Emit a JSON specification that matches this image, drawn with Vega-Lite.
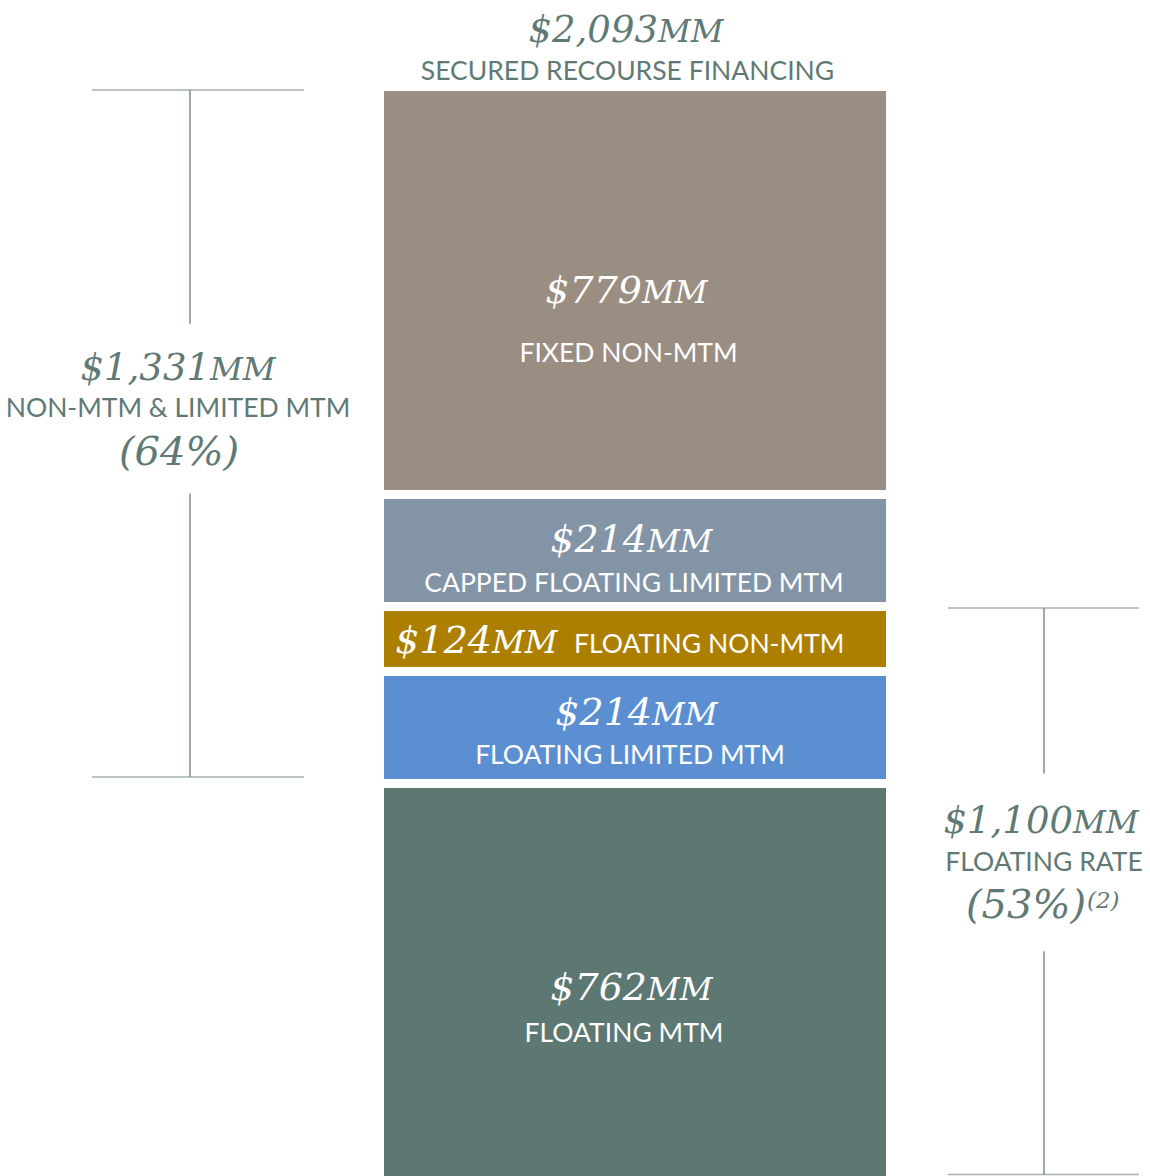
{
  "$schema": "https://vega.github.io/schema/vega-lite/v6.json",
  "width": 1150,
  "height": 1176,
  "autosize": {"type": "fit", "contains": "padding"},
  "padding": 0,
  "background": "white",
  "config": {"view": {"stroke": null}},
  "datasets": {
    "segments": [
      {"segment": "FLOATING MTM", "value": 762, "order": 1},
      {"segment": "FLOATING LIMITED MTM", "value": 214, "order": 2},
      {"segment": "FLOATING NON-MTM", "value": 124, "order": 3},
      {"segment": "CAPPED FLOATING LIMITED MTM", "value": 214, "order": 4},
      {"segment": "FIXED NON-MTM", "value": 779, "order": 5}
    ],
    "brackets": [
      {"side": "left", "label": "NON-MTM & LIMITED MTM", "total": 1331, "share": "(64%)", "from": 762, "to": 2093},
      {"side": "right", "label": "FLOATING RATE", "total": 1100, "share": "(53%)", "note": "(2)", "from": 0, "to": 1100}
    ]
  },
  "layer": [
    {
      "data": {"name": "segments"},
      "transform": [
        {"stack": "value", "groupby": [], "sort": [{"field": "order", "order": "ascending"}], "as": ["v0", "v1"]}
      ],
      "layer": [
        {
          "mark": {"type": "bar", "width": 511, "stroke": "white", "strokeWidth": 9, "xOffset": 18, "clip": true},
          "encoding": {
            "x": {"datum": "bar", "type": "nominal", "axis": null, "scale": {"type": "point", "domain": ["left", "bar", "right"], "range": [190, 1044], "padding": 0}},
            "y": {"field": "v1", "type": "quantitative", "axis": null, "scale": {"domain": [12.6, 2258.2], "nice": false, "zero": false}},
            "y2": {"field": "v0"},
            "color": {"field": "segment", "type": "nominal", "legend": null,
              "scale": {"domain": ["FLOATING MTM", "FLOATING LIMITED MTM", "FLOATING NON-MTM", "CAPPED FLOATING LIMITED MTM", "FIXED NON-MTM"],
                        "range": ["#5d7773", "#5c8fd1", "#ad7f00", "#8294a5", "#9a8d81"]}}
          }
        },
        {
          "transform": [{"filter": {"field": "segment", "equal": "FIXED NON-MTM"}}],
          "layer": [
            {"mark": {"type": "text", "font": "DejaVu Serif", "fontStyle": "italic", "fontSize": 38, "fill": "white", "align": "right", "baseline": "alphabetic", "dx": 25, "dy": 216.5},
             "encoding": {"x": {"datum": "bar", "type": "nominal"}, "y": {"field": "v1", "type": "quantitative"}, "text": {"field": "value", "format": "$,d"}}},
            {"mark": {"type": "text", "font": "DejaVu Serif", "fontStyle": "italic", "fontSize": 32, "fill": "white", "align": "left", "baseline": "alphabetic", "dx": 25, "dy": 216.5},
             "encoding": {"x": {"datum": "bar", "type": "nominal"}, "y": {"field": "v1", "type": "quantitative"}, "text": {"value": "MM"}}},
            {"mark": {"type": "text", "font": "Lato", "fontSize": 26.5, "fill": "white", "align": "center", "baseline": "alphabetic", "dx": 11.5, "dy": 275.5},
             "encoding": {"x": {"datum": "bar", "type": "nominal"}, "y": {"field": "v1", "type": "quantitative"}, "text": {"field": "segment"}}}
          ]
        },
        {
          "transform": [{"filter": {"field": "segment", "equal": "CAPPED FLOATING LIMITED MTM"}}],
          "layer": [
            {"mark": {"type": "text", "font": "DejaVu Serif", "fontStyle": "italic", "fontSize": 38, "fill": "white", "align": "right", "baseline": "alphabetic", "dx": 30, "dy": 57.5},
             "encoding": {"x": {"datum": "bar", "type": "nominal"}, "y": {"field": "v1", "type": "quantitative"}, "text": {"field": "value", "format": "$,d"}}},
            {"mark": {"type": "text", "font": "DejaVu Serif", "fontStyle": "italic", "fontSize": 32, "fill": "white", "align": "left", "baseline": "alphabetic", "dx": 30, "dy": 57.5},
             "encoding": {"x": {"datum": "bar", "type": "nominal"}, "y": {"field": "v1", "type": "quantitative"}, "text": {"value": "MM"}}},
            {"mark": {"type": "text", "font": "Lato", "fontSize": 26.5, "fill": "white", "align": "center", "baseline": "alphabetic", "dx": 17, "dy": 97.5},
             "encoding": {"x": {"datum": "bar", "type": "nominal"}, "y": {"field": "v1", "type": "quantitative"}, "text": {"field": "segment"}}}
          ]
        },
        {
          "transform": [{"filter": {"field": "segment", "equal": "FLOATING NON-MTM"}}],
          "layer": [
            {"mark": {"type": "text", "font": "DejaVu Serif", "fontStyle": "italic", "fontSize": 38, "fill": "white", "align": "right", "baseline": "alphabetic", "dx": -125, "dy": 46.5},
             "encoding": {"x": {"datum": "bar", "type": "nominal"}, "y": {"field": "v1", "type": "quantitative"}, "text": {"field": "value", "format": "$,d"}}},
            {"mark": {"type": "text", "font": "DejaVu Serif", "fontStyle": "italic", "fontSize": 32, "fill": "white", "align": "left", "baseline": "alphabetic", "dx": -125, "dy": 46.5},
             "encoding": {"x": {"datum": "bar", "type": "nominal"}, "y": {"field": "v1", "type": "quantitative"}, "text": {"value": "MM"}}},
            {"mark": {"type": "text", "font": "Lato", "fontSize": 26.5, "fill": "white", "align": "left", "baseline": "alphabetic", "dx": -43, "dy": 46.5},
             "encoding": {"x": {"datum": "bar", "type": "nominal"}, "y": {"field": "v1", "type": "quantitative"}, "text": {"field": "segment"}}}
          ]
        },
        {
          "transform": [{"filter": {"field": "segment", "equal": "FLOATING LIMITED MTM"}}],
          "layer": [
            {"mark": {"type": "text", "font": "DejaVu Serif", "fontStyle": "italic", "fontSize": 38, "fill": "white", "align": "right", "baseline": "alphabetic", "dx": 35, "dy": 53.6},
             "encoding": {"x": {"datum": "bar", "type": "nominal"}, "y": {"field": "v1", "type": "quantitative"}, "text": {"field": "value", "format": "$,d"}}},
            {"mark": {"type": "text", "font": "DejaVu Serif", "fontStyle": "italic", "fontSize": 32, "fill": "white", "align": "left", "baseline": "alphabetic", "dx": 35, "dy": 53.6},
             "encoding": {"x": {"datum": "bar", "type": "nominal"}, "y": {"field": "v1", "type": "quantitative"}, "text": {"value": "MM"}}},
            {"mark": {"type": "text", "font": "Lato", "fontSize": 26.5, "fill": "white", "align": "center", "baseline": "alphabetic", "dx": 13, "dy": 92.6},
             "encoding": {"x": {"datum": "bar", "type": "nominal"}, "y": {"field": "v1", "type": "quantitative"}, "text": {"field": "segment"}}}
          ]
        },
        {
          "transform": [{"filter": {"field": "segment", "equal": "FLOATING MTM"}}],
          "layer": [
            {"mark": {"type": "text", "font": "DejaVu Serif", "fontStyle": "italic", "fontSize": 38, "fill": "white", "align": "right", "baseline": "alphabetic", "dx": 30, "dy": 216.5},
             "encoding": {"x": {"datum": "bar", "type": "nominal"}, "y": {"field": "v1", "type": "quantitative"}, "text": {"field": "value", "format": "$,d"}}},
            {"mark": {"type": "text", "font": "DejaVu Serif", "fontStyle": "italic", "fontSize": 32, "fill": "white", "align": "left", "baseline": "alphabetic", "dx": 30, "dy": 216.5},
             "encoding": {"x": {"datum": "bar", "type": "nominal"}, "y": {"field": "v1", "type": "quantitative"}, "text": {"value": "MM"}}},
            {"mark": {"type": "text", "font": "Lato", "fontSize": 26.5, "fill": "white", "align": "center", "baseline": "alphabetic", "dx": 7, "dy": 258.5},
             "encoding": {"x": {"datum": "bar", "type": "nominal"}, "y": {"field": "v1", "type": "quantitative"}, "text": {"field": "segment"}}}
          ]
        },
        {
          "transform": [{"aggregate": [{"op": "sum", "field": "value", "as": "total"}]}],
          "layer": [
            {"mark": {"type": "text", "font": "DejaVu Serif", "fontStyle": "italic", "fontSize": 37, "fill": "#5f7a75", "align": "right", "baseline": "alphabetic", "dx": 41, "dy": -44.5},
             "encoding": {"x": {"datum": "bar", "type": "nominal"}, "y": {"field": "total", "type": "quantitative"}, "text": {"field": "total", "format": "$,d"}}},
            {"mark": {"type": "text", "font": "DejaVu Serif", "fontStyle": "italic", "fontSize": 32, "fill": "#5f7a75", "align": "left", "baseline": "alphabetic", "dx": 41, "dy": -44.5},
             "encoding": {"x": {"datum": "bar", "type": "nominal"}, "y": {"field": "total", "type": "quantitative"}, "text": {"value": "MM"}}},
            {"mark": {"type": "text", "font": "Lato", "fontSize": 26.5, "fill": "#5f7a75", "align": "center", "baseline": "alphabetic", "dx": 10.5, "dy": -6.5},
             "encoding": {"x": {"datum": "bar", "type": "nominal"}, "y": {"field": "total", "type": "quantitative"}, "text": {"value": "SECURED RECOURSE FINANCING"}}}
          ]
        }
      ]
    },
    {
      "data": {"name": "brackets"},
      "layer": [
        {
          "transform": [{"filter": {"field": "side", "equal": "left"}}],
          "layer": [
            {"mark": {"type": "rule", "color": "#7d8e8a", "strokeWidth": 1.5, "yOffset": 3.5, "y2Offset": -6.5},
             "encoding": {"x": {"field": "side", "type": "nominal"}, "y": {"field": "to", "type": "quantitative", "scale": {"domain": [12.6, 2258.2], "nice": false, "zero": false}}, "y2": {"field": "from"}}},
            {"mark": {"type": "tick", "color": "#7d8e8a", "size": 212, "thickness": 1.5, "xOffset": 8, "yOffset": 3.5},
             "encoding": {"x": {"field": "side", "type": "nominal"}, "y": {"field": "to", "type": "quantitative"}}},
            {"mark": {"type": "tick", "color": "#7d8e8a", "size": 212, "thickness": 1.5, "xOffset": 8, "yOffset": -6.5},
             "encoding": {"x": {"field": "side", "type": "nominal"}, "y": {"field": "from", "type": "quantitative"}}},
            {"mark": {"type": "text", "font": "DejaVu Serif", "fontStyle": "italic", "fontSize": 37, "fill": "white", "stroke": "white", "strokeWidth": 60, "strokeJoin": "round", "align": "right", "baseline": "alphabetic", "dx": 20, "dy": 293.5},
             "encoding": {"x": {"field": "side", "type": "nominal"}, "y": {"field": "to", "type": "quantitative"}, "text": {"field": "total", "format": "$,d"}}},
            {"mark": {"type": "text", "font": "Lato", "fontSize": 26.5, "fill": "white", "stroke": "white", "strokeWidth": 44, "strokeJoin": "round", "align": "center", "baseline": "alphabetic", "dx": -12, "dy": 330.5},
             "encoding": {"x": {"field": "side", "type": "nominal"}, "y": {"field": "to", "type": "quantitative"}, "text": {"field": "label"}}},
            {"mark": {"type": "text", "font": "DejaVu Serif", "fontStyle": "italic", "fontSize": 40, "fill": "white", "stroke": "white", "strokeWidth": 56, "strokeJoin": "round", "align": "center", "baseline": "alphabetic", "dx": -11, "dy": 378.5},
             "encoding": {"x": {"field": "side", "type": "nominal"}, "y": {"field": "to", "type": "quantitative"}, "text": {"field": "share"}}},
            {"mark": {"type": "text", "font": "DejaVu Serif", "fontStyle": "italic", "fontSize": 37, "fill": "#5f7a75", "align": "right", "baseline": "alphabetic", "dx": 20, "dy": 293.5},
             "encoding": {"x": {"field": "side", "type": "nominal"}, "y": {"field": "to", "type": "quantitative"}, "text": {"field": "total", "format": "$,d"}}},
            {"mark": {"type": "text", "font": "DejaVu Serif", "fontStyle": "italic", "fontSize": 32, "fill": "#5f7a75", "align": "left", "baseline": "alphabetic", "dx": 20, "dy": 293.5},
             "encoding": {"x": {"field": "side", "type": "nominal"}, "y": {"field": "to", "type": "quantitative"}, "text": {"value": "MM"}}},
            {"mark": {"type": "text", "font": "Lato", "fontSize": 26.5, "fill": "#5f7a75", "align": "center", "baseline": "alphabetic", "dx": -12, "dy": 330.5},
             "encoding": {"x": {"field": "side", "type": "nominal"}, "y": {"field": "to", "type": "quantitative"}, "text": {"field": "label"}}},
            {"mark": {"type": "text", "font": "DejaVu Serif", "fontStyle": "italic", "fontSize": 40, "fill": "#5f7a75", "align": "center", "baseline": "alphabetic", "dx": -11, "dy": 378.5},
             "encoding": {"x": {"field": "side", "type": "nominal"}, "y": {"field": "to", "type": "quantitative"}, "text": {"field": "share"}}}
          ]
        },
        {
          "transform": [{"filter": {"field": "side", "equal": "right"}}],
          "layer": [
            {"mark": {"type": "rule", "color": "#7d8e8a", "strokeWidth": 1.5, "yOffset": 1.5, "y2Offset": -8},
             "encoding": {"x": {"field": "side", "type": "nominal"}, "y": {"field": "to", "type": "quantitative"}, "y2": {"field": "from"}}},
            {"mark": {"type": "tick", "color": "#7d8e8a", "size": 191, "thickness": 1.5, "xOffset": -0.5, "yOffset": 1.5},
             "encoding": {"x": {"field": "side", "type": "nominal"}, "y": {"field": "to", "type": "quantitative"}}},
            {"mark": {"type": "tick", "color": "#7d8e8a", "size": 191, "thickness": 1.5, "xOffset": -0.5, "yOffset": -8},
             "encoding": {"x": {"field": "side", "type": "nominal"}, "y": {"field": "from", "type": "quantitative"}}},
            {"mark": {"type": "text", "font": "DejaVu Serif", "fontStyle": "italic", "fontSize": 37, "fill": "white", "stroke": "white", "strokeWidth": 64, "strokeJoin": "round", "align": "right", "baseline": "alphabetic", "dx": 29, "dy": 226.5},
             "encoding": {"x": {"field": "side", "type": "nominal"}, "y": {"field": "to", "type": "quantitative"}, "text": {"field": "total", "format": "$,d"}}},
            {"mark": {"type": "text", "font": "Lato", "fontSize": 26.5, "fill": "white", "stroke": "white", "strokeWidth": 44, "strokeJoin": "round", "align": "center", "baseline": "alphabetic", "dx": 0, "dy": 264.5},
             "encoding": {"x": {"field": "side", "type": "nominal"}, "y": {"field": "to", "type": "quantitative"}, "text": {"field": "label"}}},
            {"mark": {"type": "text", "font": "DejaVu Serif", "fontStyle": "italic", "fontSize": 40, "fill": "white", "stroke": "white", "strokeWidth": 66, "strokeJoin": "round", "align": "right", "baseline": "alphabetic", "dx": 42, "dy": 311.5},
             "encoding": {"x": {"field": "side", "type": "nominal"}, "y": {"field": "to", "type": "quantitative"}, "text": {"field": "share"}}},
            {"mark": {"type": "text", "font": "DejaVu Serif", "fontStyle": "italic", "fontSize": 37, "fill": "#5f7a75", "align": "right", "baseline": "alphabetic", "dx": 29, "dy": 226.5},
             "encoding": {"x": {"field": "side", "type": "nominal"}, "y": {"field": "to", "type": "quantitative"}, "text": {"field": "total", "format": "$,d"}}},
            {"mark": {"type": "text", "font": "DejaVu Serif", "fontStyle": "italic", "fontSize": 32, "fill": "#5f7a75", "align": "left", "baseline": "alphabetic", "dx": 29, "dy": 226.5},
             "encoding": {"x": {"field": "side", "type": "nominal"}, "y": {"field": "to", "type": "quantitative"}, "text": {"value": "MM"}}},
            {"mark": {"type": "text", "font": "Lato", "fontSize": 26.5, "fill": "#5f7a75", "align": "center", "baseline": "alphabetic", "dx": 0, "dy": 264.5},
             "encoding": {"x": {"field": "side", "type": "nominal"}, "y": {"field": "to", "type": "quantitative"}, "text": {"field": "label"}}},
            {"mark": {"type": "text", "font": "DejaVu Serif", "fontStyle": "italic", "fontSize": 40, "fill": "#5f7a75", "align": "right", "baseline": "alphabetic", "dx": 42, "dy": 311.5},
             "encoding": {"x": {"field": "side", "type": "nominal"}, "y": {"field": "to", "type": "quantitative"}, "text": {"field": "share"}}},
            {"mark": {"type": "text", "font": "DejaVu Serif", "fontStyle": "italic", "fontSize": 23, "fill": "#5f7a75", "align": "left", "baseline": "alphabetic", "dx": 43, "dy": 301.5},
             "encoding": {"x": {"field": "side", "type": "nominal"}, "y": {"field": "to", "type": "quantitative"}, "text": {"field": "note"}}}
          ]
        }
      ]
    }
  ]
}
